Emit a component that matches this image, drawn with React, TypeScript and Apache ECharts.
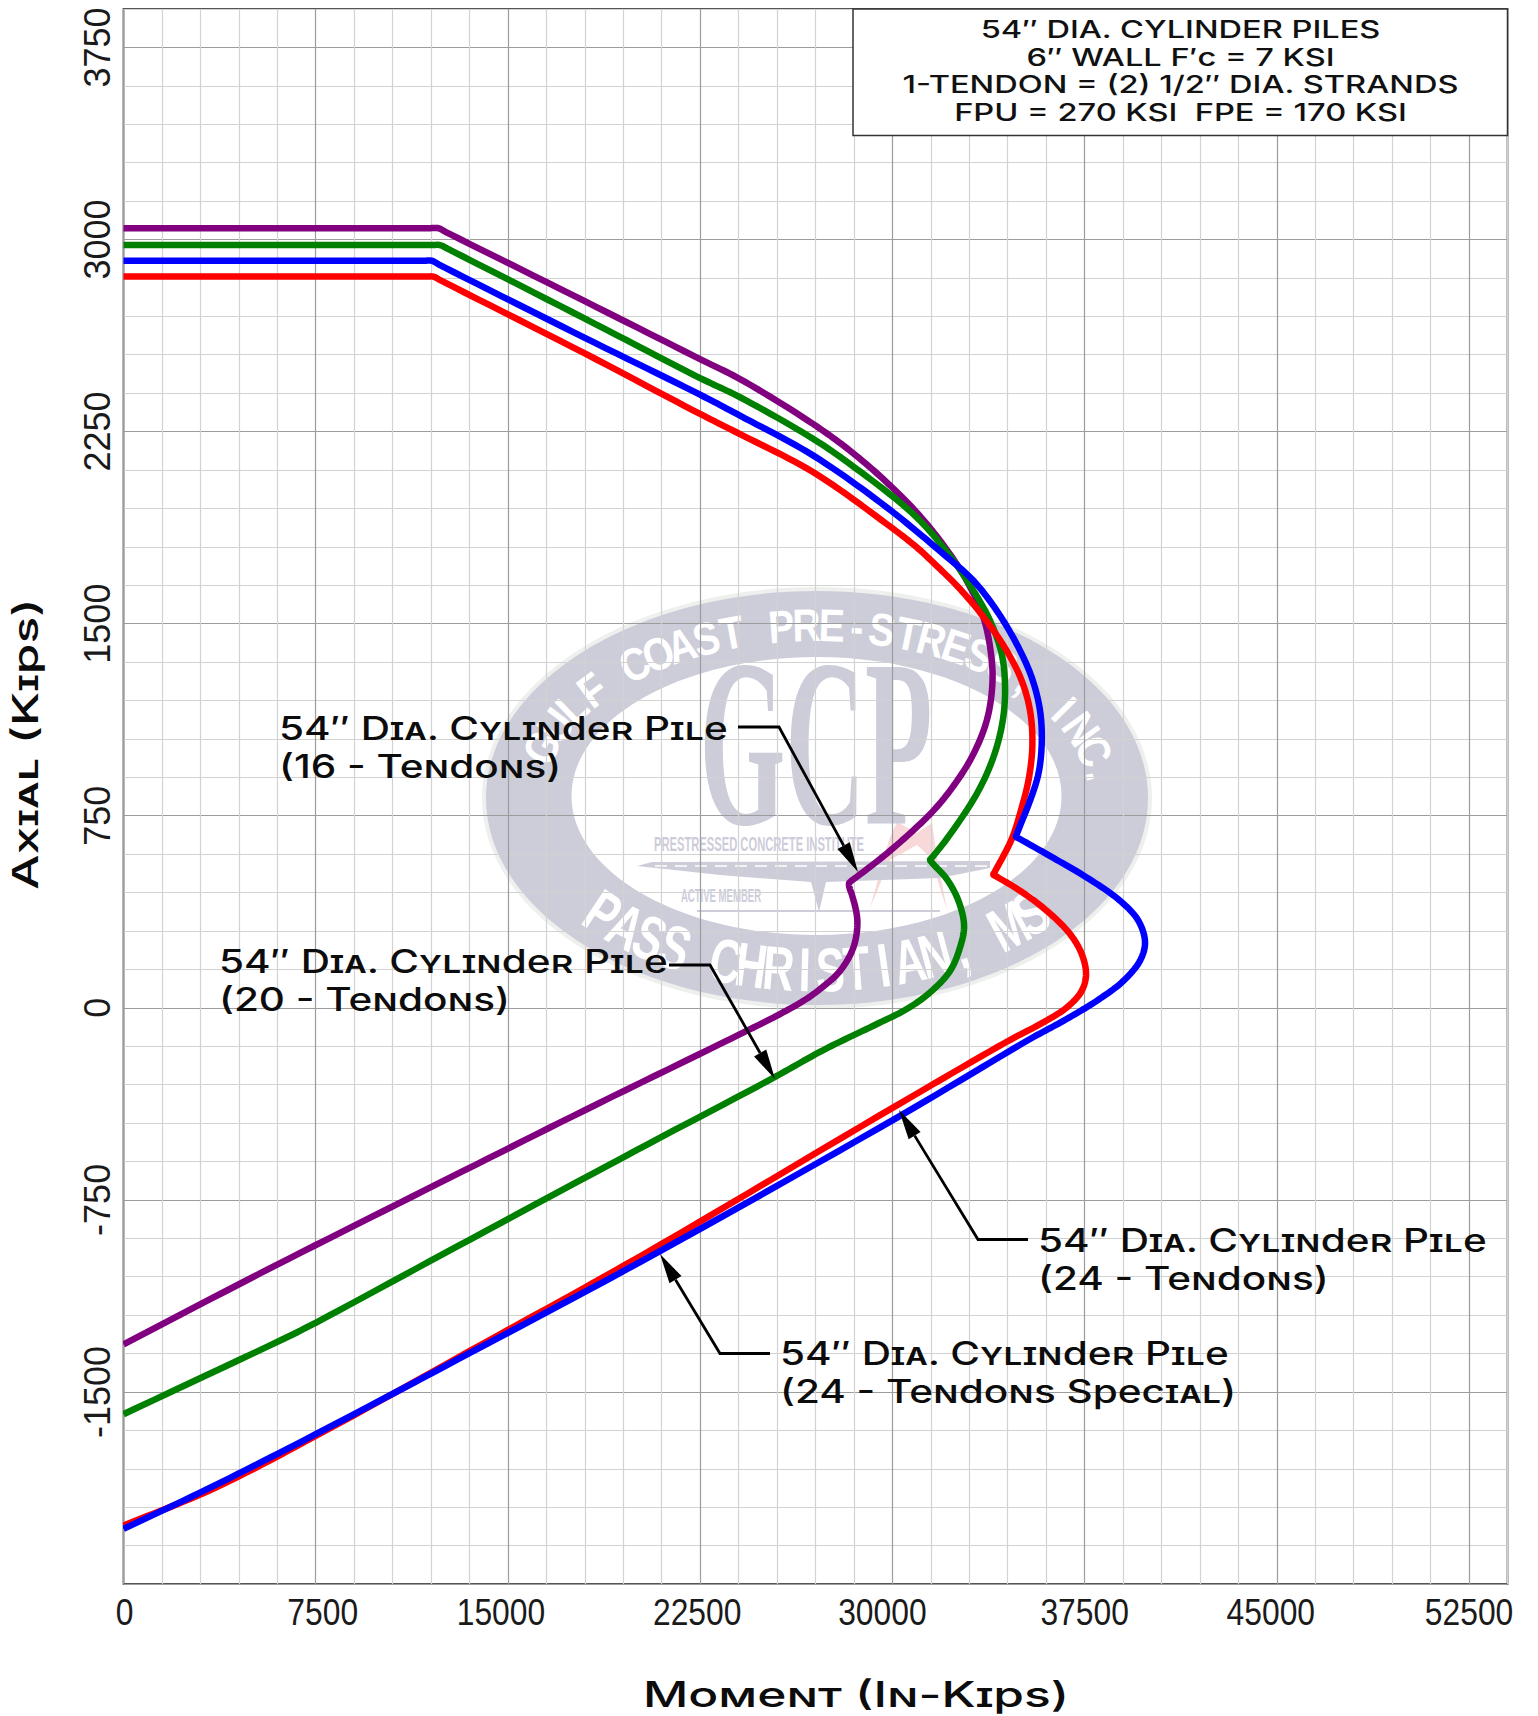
import React, { useEffect, useRef } from "react";
import * as echarts from "echarts";

const xTickLabels = [0, 7500, 15000, 22500, 30000, 37500, 45000, 52500];
const yTickLabels = [-1500, -750, 0, 750, 1500, 2250, 3000, 3750];

const pile16 = [[0,3044],[6000,3044],[11900,3044],[12285,3044],[12600,3028],[18000,2759],[22495,2533],[24056,2455],[26917,2279],[28348,2175],[29779,2052],[30950,1934],[31950,1812],[32900,1668],[33550,1525],[33849,1381],[33901,1264],[33680,1121],[33095,978],[32249,848],[31469,756],[29909,613],[28674,516],[28380,494],[28310,486],[28335,465],[28413,444],[28634,340],[28478,236],[27958,144],[27178,73],[26527,27],[25357,-38],[24056,-103],[18000,-400],[12266,-687],[5860,-1010],[0,-1314]];
const pile20 = [[0,2978],[6000,2978],[12000,2978],[12350,2978],[12700,2961],[18000,2691],[22495,2459],[24056,2384],[26917,2221],[28348,2123],[30950,1915],[32379,1746],[33160,1629],[33810,1512],[34265,1381],[34396,1251],[34305,1121],[33940,978],[33290,835],[32119,659],[31530,585],[31470,578],[31560,565],[32120,503],[32576,418],[32797,320],[32640,236],[32250,144],[31470,60],[30559,-5],[29259,-70],[27308,-165],[25420,-270],[20000,-557],[13000,-933],[7500,-1230],[7122,-1249],[6800,-1266],[0,-1587]];
const pile24 = [[0,2855],[6000,2855],[11800,2855],[12090,2855],[12400,2839],[18000,2555],[22495,2319],[24056,2240],[26917,2091],[29779,1889],[30950,1798],[31599,1738],[32640,1635],[33615,1518],[34461,1394],[35046,1277],[35371,1160],[35462,1030],[35332,900],[35046,782],[34655,659],[34000,532],[33940,520],[34070,512],[34981,457],[36021,379],[36932,288],[37387,210],[37556,131],[37387,66],[36802,1],[35761,-64],[34656,-122],[30207,-379],[20150,-971],[14000,-1313],[7500,-1672],[3500,-1878],[0,-2022]];
const pile24Special = [[0,2917],[6000,2917],[11700,2917],[12025,2917],[12350,2900],[18000,2616],[22495,2394],[24056,2312],[26917,2156],[29779,1954],[31990,1772],[33160,1668],[34070,1551],[34851,1420],[35436,1290],[35761,1160],[35826,1030],[35696,913],[35371,809],[34880,685],[34825,668],[34960,660],[36021,600],[37582,509],[38883,418],[39598,340],[39858,255],[39663,184],[39013,105],[37972,27],[36672,-51],[35371,-122],[30200,-428],[20150,-993],[14000,-1322],[7500,-1665],[3500,-1868],[0,-2035]];

const noteLines = ["54″ DIA. CYLINDER PILES", "6″ WALL F′c = 7 KSI", "1-TENDON = (2) 1/2″ DIA. STRANDS", "FPU = 270 KSI  FPE = 170 KSI"];
const xLabelNudge = [1, 7, -7, -3, -10, 0, -6, 0];
const LABEL_FONT = "Inter";
const RING = "#cdcdda";
const SANS = "Liberation Sans";

function arcLetters(text: string, cx: number, cy: number, rx: number, ry: number, t0: number, t1: number, font: number, sx: number) {
  const N = 400;
  const pts: { x: number; y: number; s: number }[] = [];
  let s = 0, px = 0, py = 0;
  for (let i = 0; i <= N; i++) {
    const t = ((t0 + ((t1 - t0) * i) / N) * Math.PI) / 180;
    const x = cx + rx * Math.cos(t), y = cy - ry * Math.sin(t);
    if (i) s += Math.hypot(x - px, y - py);
    px = x; py = y;
    pts.push({ x, y, s });
  }
  const out: any[] = [];
  const n = text.length;
  text.split("").forEach((ch, i) => {
    if (ch === " ") return;
    const target = (s * i) / (n - 1);
    let k = 0;
    while (k < N && pts[k].s < target) k++;
    const a = pts[Math.max(0, k - 1)], b = pts[Math.min(N, k + 1)];
    const ang = Math.atan2(b.y - a.y, b.x - a.x);
    out.push({
      type: "text", z: -1, x: pts[k].x, y: pts[k].y, rotation: -ang, scaleX: sx, silent: true,
      style: { text: ch, fill: "#ffffff", fontSize: font, fontWeight: "bold", fontFamily: SANS, textAlign: "center", textVerticalAlign: "middle" },
    });
  });
  return out;
}

const LABEL_SX = 1.265;
function label(x: number, y: number, a: string, b: string) {
  const base = { fill: "#0c0c0c", font: `small-caps 500 32px ${LABEL_FONT}`, textAlign: "left", textVerticalAlign: "middle" };
  return [
    { type: "text", z: 20, x, y: y + 1, scaleX: LABEL_SX, style: { ...base, text: a } },
    { type: "text", z: 20, x, y: y + 39, scaleX: LABEL_SX, style: { ...base, text: b } },
  ];
}

function leader(pts: number[][]) {
  const n = pts.length;
  const tip = pts[n - 1], prev = pts[n - 2];
  const d = Math.hypot(tip[0] - prev[0], tip[1] - prev[1]);
  const ux = (tip[0] - prev[0]) / d, uy = (tip[1] - prev[1]) / d;
  const L = 30, W = 7;
  const bx = tip[0] - ux * L, by = tip[1] - uy * L;
  return [
    { type: "polyline", z: 20, shape: { points: pts.slice(0, n - 1).concat([[bx, by]]) }, style: { stroke: "#000", lineWidth: 2.8, fill: "none" } },
    { type: "polygon", z: 20, shape: { points: [tip, [bx - uy * W, by + ux * W], [bx + uy * W, by - ux * W]] }, style: { fill: "#000" } },
  ];
}

function buildGraphics(chart: any) {
  const els: any[] = [
    { type: "ellipse", z: -3, shape: { cx: 817, cy: 798, rx: 335, ry: 211 }, style: { fill: "#eef0ee" } },
    { type: "ellipse", z: -2.5, shape: { cx: 817, cy: 798, rx: 331, ry: 207 }, style: { fill: RING } },
    { type: "ellipse", z: -2, shape: { cx: 816.5, cy: 796, rx: 245, ry: 139 }, style: { fill: "#ffffff" } },
    { type: "text", z: -1, x: 816, y: 743, scaleX: 0.46, style: { text: "GCP", fill: RING, fontSize: 240, fontWeight: "bold", fontFamily: "Liberation Serif", textAlign: "center", textVerticalAlign: "middle" } },
    { type: "text", z: -1, x: 759, y: 844, scaleX: 0.533, style: { text: "PRESTRESSED CONCRETE INSTITUTE", fill: RING, fontSize: 21, fontWeight: "bold", fontFamily: SANS, textAlign: "center", textVerticalAlign: "middle" } },
    { type: "text", z: -1, x: 721, y: 896, scaleX: 0.54, style: { text: "ACTIVE MEMBER", fill: RING, fontSize: 17.7, fontWeight: "bold", fontFamily: SANS, textAlign: "center", textVerticalAlign: "middle" } },
    { type: "polygon", z: -1.5, shape: { points: [[870,908],[889,840],[897,822],[917,833],[932,823],[937,857],[947,910],[930,857],[917,845],[890,860]] }, style: { fill: "#f8d8d8" } },
    { type: "polygon", z: -1, shape: { points: [[637,866],[652,862],[990,861],[990,868],[940,878],[826,882],[819,912],[811,882],[720,875]] }, style: { fill: RING } },
    { type: "line", z: -1, shape: { x1: 655, y1: 866, x2: 988, y2: 866 }, style: { stroke: "#ffffff", lineWidth: 1.5, lineDash: [12, 8] } },
    { type: "line", z: -1, shape: { x1: 697, y1: 911, x2: 940, y2: 911 }, style: { stroke: RING, lineWidth: 2 } },
    ...arcLetters("GULF COAST PRE-STRESS, INC.", 817, 798, 288, 173, 163, 8, 46, 0.85),
    ...arcLetters("PASS CHRISTIAN, MS", 817, 798, 288, 172, 222, 318, 62, 0.7),
    { type: "rect", z: 15, shape: { x: 853, y: 9, width: 654.5, height: 126.5 }, style: { fill: "#ffffff", stroke: "#333333", lineWidth: 1.5 } },
    ...noteLines.map((text, i) => ({
      type: "text", z: 16, x: 1180.5, y: 29.5 + i * 27.4, scaleX: 1.33,
      style: { text, fill: "#111", font: `500 24.5px ${LABEL_FONT}`, textAlign: "center", textVerticalAlign: "middle" },
    })),
    ...label(279, 728, "54″ Dia. Cylinder Pile", "(16 - Tendons)"),
    ...label(219, 961, "54″ Dia. Cylinder Pile", "(20 - Tendons)"),
    ...label(1038, 1240, "54″ Dia. Cylinder Pile", "(24 - Tendons)"),
    ...label(780, 1353, "54″ Dia. Cylinder Pile", "(24 - Tendons Special)"),
    ...leader([[738, 727], [779, 727], [858, 872]]),
    ...leader([[669, 965], [710, 965], [775, 1079]]),
    ...leader([[1028, 1239.5], [978, 1239.5], [899, 1110]]),
    ...leader([[770, 1353.5], [720, 1353.5], [660, 1254]]),
    ...xTickLabels.map((v, i) => ({
      type: "text", z: 16, x: chart.convertToPixel({ xAxisIndex: 0 }, v) + xLabelNudge[i], y: 1612, scaleX: 0.86,
      style: { text: String(v), fill: "#1a1a1a", fontSize: 37, fontFamily: SANS, textAlign: "center", textVerticalAlign: "middle" },
    })),
    { type: "text", z: 16, x: 856, y: 1694, scaleX: 1.42, style: { text: "Moment (In-Kips)", fill: "#0c0c0c", font: `small-caps 500 35px ${LABEL_FONT}`, textAlign: "center", textVerticalAlign: "middle" } },
    { type: "text", z: 16, x: 25, y: 744, rotation: Math.PI / 2, scaleX: 1.42, style: { text: "Axial (Kips)", fill: "#0c0c0c", font: `small-caps 500 35px ${LABEL_FONT}`, textAlign: "center", textVerticalAlign: "middle" } },
  ];
  return els;
}

const major = "#9c9c9c";
const minor = "#d2d2d2";
const lineCycle = [major, minor, minor, minor, minor];

// Draws a centripetal Catmull-Rom spline through the read points, in pixels.
function spline(p: number[][]) {
  const out: number[][] = [p[0]];
  const dist = (a: number[], b: number[]) => Math.max(1e-3, Math.sqrt(Math.hypot(a[0] - b[0], a[1] - b[1])));
  for (let i = 0; i < p.length - 1; i++) {
    const p0 = p[Math.max(0, i - 1)], p1 = p[i], p2 = p[i + 1], p3 = p[Math.min(p.length - 1, i + 2)];
    const d1 = i === 0 ? 1e9 : dist(p0, p1), d2 = dist(p1, p2), d3 = i + 2 >= p.length ? 1e9 : dist(p2, p3);
    const m1 = [0, 1].map((c) => (i === 0 ? p2[c] - p1[c] : d2 * ((p1[c] - p0[c]) / d1 - (p2[c] - p0[c]) / (d1 + d2) + (p2[c] - p1[c]) / d2)));
    const m2 = [0, 1].map((c) => (i + 2 >= p.length ? p2[c] - p1[c] : d2 * ((p2[c] - p1[c]) / d2 - (p3[c] - p1[c]) / (d2 + d3) + (p3[c] - p2[c]) / d3)));
    for (let k = 1; k <= 12; k++) {
      const t = k / 12;
      const h00 = 2 * t ** 3 - 3 * t ** 2 + 1, h10 = t ** 3 - 2 * t ** 2 + t, h01 = -2 * t ** 3 + 3 * t ** 2, h11 = t ** 3 - t ** 2;
      out.push([0, 1].map((c) => h00 * p1[c] + h10 * m1[c] + h01 * p2[c] + h11 * m2[c]));
    }
  }
  return out;
}

function curve(name: string, data: number[][], color: string) {
  return {
    name, type: "custom", data, encode: { x: 0, y: 1 }, clip: true, z: 5, silent: true,
    renderItem: (params: any, api: any) => {
      if (params.dataIndex !== 0) return null;
      return {
        type: "polyline",
        shape: { points: spline(data.map((d) => api.coord(d))) },
        style: { stroke: color, lineWidth: 6.5, fill: "none", lineJoin: "miter", lineCap: "butt" },
      };
    },
  };
}

export default function App() {
  const ref = useRef<HTMLDivElement>(null);
  useEffect(() => {
    const chart = echarts.init(ref.current!, undefined, { renderer: "svg" });
    chart.setOption({
      animation: false,
      backgroundColor: "#ffffff",
      grid: { left: 123.5, top: 9, width: 1384, height: 1575, show: true, borderColor: "#555", borderWidth: 1.8, containLabel: false, outerBoundsMode: "none" },
      xAxis: {
        type: "value", min: 0, max: 54000, interval: 1500,
        axisLine: { show: false },
        axisTick: { show: false },
        axisLabel: { show: false },
        splitLine: { show: true, lineStyle: { color: lineCycle, width: 1.2 } },
      },
      yAxis: {
        type: "value", min: -2250, max: 3900, interval: 150,
        axisLine: { show: false },
        axisTick: { show: false },
        axisLabel: { customValues: yTickLabels, formatter: (v: number) => String(v), rotate: 90, fontFamily: SANS, fontSize: 36, color: "#1a1a1a", margin: 8 },
        splitLine: { show: true, lineStyle: { color: lineCycle, width: 1.2 } },
      },
      series: [
        curve("54″ Dia. Cylinder Pile (16 - Tendons)", pile16, "#800080"),
        curve("54″ Dia. Cylinder Pile (20 - Tendons)", pile20, "#008000"),
        curve("54″ Dia. Cylinder Pile (24 - Tendons)", pile24, "#ff0000"),
        curve("54″ Dia. Cylinder Pile (24 - Tendons Special)", pile24Special, "#0000ff"),
      ],
    });
    chart.setOption({ graphic: { elements: buildGraphics(chart) } });
    return () => chart.dispose();
  }, []);
  return <div ref={ref} style={{ position: "fixed", left: 0, top: 0, width: 1538, height: 1716, background: "#fff" }} />;
}
